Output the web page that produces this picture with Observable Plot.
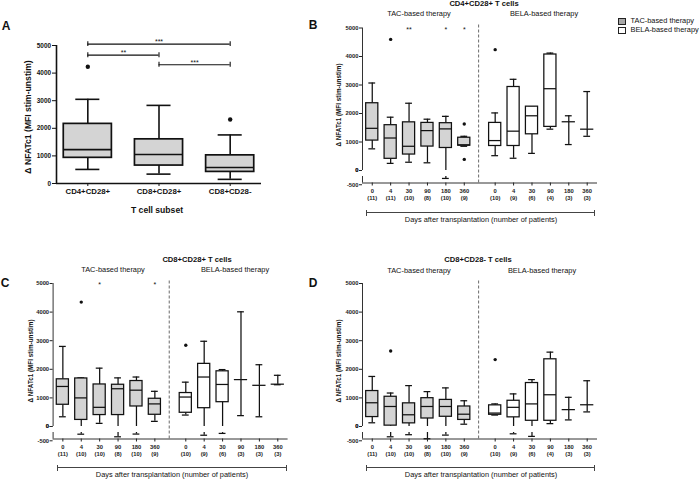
<!DOCTYPE html>
<html><head><meta charset="utf-8">
<script src="https://cdn.jsdelivr.net/npm/d3@7"></script>
<script src="https://cdn.jsdelivr.net/npm/@observablehq/plot@0.6"></script>
<style>
body{margin:0;background:#fff;}
#fig{position:relative;width:700px;height:479px;overflow:hidden;font-family:"Liberation Sans",Arial,sans-serif;color:#111;background:#fff;}
.abs{position:absolute;white-space:nowrap;line-height:1;}
.c{transform:translate(-50%,-50%);}
.rot{transform:translate(-50%,-50%) rotate(-90deg);}
.pw{position:absolute;}
</style></head>
<body><div id="fig"></div>
<script>
// ---------- DATA ----------
// Panel A
const subsets = ["CD4+CD28+", "CD8+CD28+", "CD8+CD28-"];
// [low whisker, Q1, median, Q3, high whisker]
const subsetStats = [[510, 930, 1230, 2160, 3050], [340, 650, 1050, 1600, 2830], [150, 420, 580, 1020, 1760]];
const subsetOutliers = [[0, 4230], [2, 2320]];
const sigBars = [
  {from: 0, to: 2, level: 5050, label: "***"},
  {from: 0, to: 1, level: 4650, label: "**"},
  {from: 1, to: 2, level: 4300, label: "***"}
];

// Panels B–D
const days = [0, 4, 30, 90, 180, 360];
const yTicks = [-500, 0, 1000, 2000, 3000, 4000, 5000];

// CD4+CD28+
const cd4TacN = [11, 11, 10, 8, 10, 9];
const cd4BelaN = [10, 9, 6, 4, 3, 3];
const cd4Tac = [[760, 1050, 1480, 2360, 3070], [250, 410, 1140, 1590, 1870], [290, 560, 850, 1690, 2360], [270, 840, 1400, 1670, 1800], [-150, 790, 1460, 1660, 1900], [850, 870, 900, 1150, 1200]];
const cd4Bela = [[520, 860, 1050, 1670, 2020], [430, 860, 1380, 2930, 3200], [600, 1270, 1920, 2240, 2240], [1450, 1530, 2870, 4070, 4120], [910, null, 1710, null, 1920], [1200, null, 1450, null, 2770]];
const cd4TacOut = [[4, 4600], [360, 1630], [360, 390]];
const cd4BelaOut = [[0, 4240]];
const cd4Stars = [[30, "**"], [180, "*"], [360, "*"]];

// CD8+CD28+
const cd8pTacN = [11, 10, 10, 8, 10, 9];
const cd8pBelaN = [10, 9, 6, 3, 3, 3];
const cd8pTac = [[340, 760, 1400, 1650, 2800], [-130, 230, 1000, 1680, 1700], [110, 400, 670, 1470, 2040], [-330, 400, 1320, 1460, 1700], [-120, 700, 1270, 1590, 1730], [180, 410, 790, 970, 1230]];
const cd8pBela = [[400, 480, 1030, 1170, 1550], [-210, 640, 1730, 2190, 2980], [-70, 850, 1470, 1930, 1990], [380, null, 1640, null, 4010], [340, null, 1440, null, 2160], [1460, null, 1480, null, 1790]];
const cd8pTacOut = [[4, 4350]];
const cd8pBelaOut = [[0, 2840]];
const cd8pStars = [[30, "*"], [360, "*"]];

// CD8+CD28-
const cd8nTacN = [11, 10, 10, 8, 10, 9];
const cd8nBelaN = [10, 9, 6, 4, 3, 3];
const cd8nTac = [[130, 330, 830, 1240, 1750], [-330, 30, 700, 1040, 1170], [-170, 110, 410, 810, 1430], [-480, 280, 700, 990, 1220], [-200, 340, 700, 930, 1350], [80, 230, 430, 700, 900]];
const cd8nBela = [[400, 410, 470, 740, 790], [-100, 320, 670, 900, 1140], [-300, 200, 790, 1520, 1640], [100, 200, 1110, 2350, 2600], [230, null, 590, null, 1020], [510, null, 760, null, 1600]];
const cd8nTacOut = [[4, 2640]];
const cd8nBelaOut = [[0, 2340]];
const cd8nStars = [];

// ---------- LAYOUT / STYLE ----------
const FONT = "Liberation Sans, Arial, sans-serif";
const TAC_FILL = "#d4d4d4", INK = "#111";
const fig = document.getElementById("fig");

function addPlot(svg, left, top) {
  const d = document.createElement("div");
  d.className = "pw"; d.style.left = left + "px"; d.style.top = top + "px";
  d.appendChild(svg); fig.appendChild(d);
}
function label(text, x, y, css = {}, cls = "c") {
  const el = document.createElement("div");
  el.className = "abs " + cls; el.textContent = text;
  el.style.left = x + "px"; el.style.top = y + "px";
  Object.assign(el.style, css); fig.appendChild(el);
  return el;
}
function bracket(x1, x2, y) {
  const l = document.createElement("div");
  Object.assign(l.style, {position: "absolute", left: x1 + "px", top: y + "px", width: (x2 - x1) + "px", height: "0", borderTop: "1px solid #444"});
  fig.appendChild(l);
  for (const x of [x1, x2 - 1]) {
    const t = document.createElement("div");
    Object.assign(t.style, {position: "absolute", left: x + "px", top: (y - 2.5) + "px", width: "0", height: "6px", borderLeft: "1px solid #444"});
    fig.appendChild(t);
  }
}

// ---------- PANEL A ----------
{
  const XD = [-0.44, 2.44];
  const BW = 0.338, CW = 0.169;
  const rows = subsetStats.map((s, i) => ({x: i, low: s[0], q1: s[1], med: s[2], q3: s[3], high: s[4]}));
  const outs = subsetOutliers.map(([i, v]) => ({x: i, v}));
  const W = 330, H = 240;
  const svg = Plot.plot({
    width: W, height: H,
    marginLeft: 56, marginRight: W - 261, marginTop: 45, marginBottom: H - 183,
    x: {domain: XD, range: [56, 261]},
    y: {domain: [0, 5000], range: [183, 45]},
    style: {fontFamily: FONT, background: "transparent", overflow: "visible", color: INK},
    marks: [
      Plot.ruleX([XD[0]], {y1: 0, y2: 5000, stroke: INK, strokeWidth: 1.6}),
      Plot.ruleY([0], {x1: XD[0], x2: XD[1], stroke: INK, strokeWidth: 1.6}),
      Plot.ruleX(rows, {x: "x", y1: "q3", y2: "high", stroke: INK, strokeWidth: 1.6}),
      Plot.ruleX(rows, {x: "x", y1: "low", y2: "q1", stroke: INK, strokeWidth: 1.6}),
      Plot.ruleY(rows, {y: "high", x1: d => d.x - CW, x2: d => d.x + CW, stroke: INK, strokeWidth: 1.6}),
      Plot.ruleY(rows, {y: "low", x1: d => d.x - CW, x2: d => d.x + CW, stroke: INK, strokeWidth: 1.6}),
      Plot.rect(rows, {x1: d => d.x - BW, x2: d => d.x + BW, y1: "q1", y2: "q3", fill: TAC_FILL, stroke: INK, strokeWidth: 1.7}),
      Plot.ruleY(rows, {y: "med", x1: d => d.x - BW, x2: d => d.x + BW, stroke: INK, strokeWidth: 1.7}),
      Plot.dot(outs, {x: "x", y: "v", r: 2.2, fill: INK}),
      Plot.ruleY(sigBars, {y: "level", x1: "from", x2: "to", stroke: INK, strokeWidth: 1.1}),
      Plot.ruleX(sigBars, {x: "from", y1: d => d.level - 90, y2: d => d.level + 90, stroke: INK, strokeWidth: 1.1}),
      Plot.ruleX(sigBars, {x: "to", y1: d => d.level - 90, y2: d => d.level + 90, stroke: INK, strokeWidth: 1.1}),
      Plot.text(sigBars, {x: d => (d.from + d.to) / 2, y: "level", text: "label", dy: -2.5, fontSize: 7, fill: INK}),
      Plot.axisY({ticks: [0, 1000, 2000, 3000, 4000, 5000], tickFormat: d => String(d), tickSize: 4, tickPadding: 1.5, fontSize: 6.4, fontWeight: "bold", label: null, color: INK}),
      Plot.axisX({ticks: [0, 1, 2], tickFormat: i => subsets[i], tickSize: 3, tickPadding: 2, fontSize: 7.8, fontWeight: "bold", label: null, color: INK})
    ]
  });
  addPlot(svg, 0, 0);
  label("A", 6, 26, {fontSize: "12px", fontWeight: "bold"});
  label("Δ NFATc1 (MFI stim-unstim)", 28, 117, {fontSize: "8.6px", fontWeight: "bold"}, "rot");
  label("T cell subset", 157, 210, {fontSize: "8.6px", fontWeight: "bold"});
}

// ---------- PANELS B–D ----------
const ZL = -1e-6;               // zero of the lower (negative) segment of the broken axis
const XD = [-0.53, 12.24];
const BELA0 = 6.68, SEP = 5.78;
const BW = 0.33, CW = 0.185, MW = 0.36;

function rowsOf(stats, ns, offset, fill) {
  return stats.map((s, i) => ({x: offset + i, day: days[i], n: ns[i], low: s[0], q1: s[1], med: s[2], q3: s[3], high: s[4], fill}));
}

function timePanel(cfg) {
  const rows = [...rowsOf(cfg.tac, cfg.tacN, 0, TAC_FILL), ...rowsOf(cfg.bela, cfg.belaN, BELA0, "#ffffff")];
  const boxed = rows.filter(d => d.q1 != null);
  const open = rows.filter(d => d.q1 == null);
  const outs = [
    ...cfg.tacOut.map(([d, v]) => ({x: days.indexOf(d), v})),
    ...cfg.belaOut.map(([d, v]) => ({x: BELA0 + days.indexOf(d), v}))
  ];
  const stars = cfg.stars.map(([d, s]) => ({x: days.indexOf(d), s, y: 5000}));
  const tickLab = new Map(rows.map(d => [d.x, `${d.day}\n(${d.n})`]));
  const [yNeg, yZl, yZ, yTop] = cfg.yr;
  // broken axis: upper segment 0..5000, lower segment -500..0 compressed, with a gap
  const pxPerUnit = (yZ - yTop) / 5000;
  const K = ((yNeg - yZl) / 500) / pxPerUnit;
  const G = (yZl - yZ) / pxPerUnit;
  const brk = v => v >= 0 ? v : v * K - G;
  const lw = 1.25;
  const axisSegs = [[0, 5000], [-500, ZL]];
  const svg = Plot.plot({
    width: cfg.w, height: cfg.h,
    marginLeft: cfg.xl, marginRight: cfg.w - cfg.xr, marginTop: yTop, marginBottom: cfg.h - yNeg,
    x: {domain: XD, range: [cfg.xl, cfg.xr]},
    y: {transform: brk, domain: [brk(-500), 5000], range: [yNeg, yTop]},
    style: {fontFamily: FONT, background: "transparent", overflow: "visible", color: INK},
    marks: [
      Plot.ruleX(axisSegs, {x: XD[0], y1: d => d[0], y2: d => d[1], stroke: "#333", strokeWidth: 1}),
      Plot.ruleY([-500], {x1: XD[0], x2: XD[1], stroke: "#333", strokeWidth: 1}),
      Plot.ruleX([SEP], {y1: -500, y2: 5150, stroke: "#6a6a6a", strokeWidth: 1, strokeDasharray: "3,2"}),
      // whiskers
      Plot.ruleX(rows, {x: "x", y1: d => d.q3 ?? d.med, y2: "high", stroke: INK, strokeWidth: lw}),
      Plot.ruleX(rows, {x: "x", y1: d => Math.max(d.low, 0), y2: d => d.q1 ?? d.med, stroke: INK, strokeWidth: lw}),
      Plot.ruleX(rows.filter(d => d.low < 0), {x: "x", y1: "low", y2: () => ZL, stroke: INK, strokeWidth: lw}),
      Plot.ruleY(rows, {y: "high", x1: d => d.x - CW, x2: d => d.x + CW, stroke: INK, strokeWidth: lw}),
      Plot.ruleY(rows, {y: "low", x1: d => d.x - CW, x2: d => d.x + CW, stroke: INK, strokeWidth: lw}),
      // boxes
      Plot.rect(boxed, {x1: d => d.x - BW, x2: d => d.x + BW, y1: "q1", y2: "q3", fill: "fill", stroke: INK, strokeWidth: lw}),
      Plot.ruleY(boxed, {y: "med", x1: d => d.x - BW, x2: d => d.x + BW, stroke: INK, strokeWidth: lw}),
      Plot.ruleY(open, {y: "med", x1: d => d.x - MW, x2: d => d.x + MW, stroke: INK, strokeWidth: lw}),
      Plot.dot(outs, {x: "x", y: "v", r: 1.7, fill: INK}),
      Plot.text(stars, {x: "x", y: "y", text: "s", fontSize: 7, dy: 1.5, fill: INK}),
      Plot.axisY({ticks: [-500, ZL, ...yTicks.slice(1)], tickFormat: d => d === ZL ? "0" : String(d), tickSize: 3, tickPadding: 1, fontSize: 5.8, fontWeight: "bold", label: null, color: "#222"}),
      Plot.axisX({ticks: rows.map(d => d.x), tickFormat: d => tickLab.get(d), tickSize: 3, tickPadding: 1, fontSize: 5.8, fontWeight: "bold", lineHeight: 1.35, label: null, color: "#222"})
    ]
  });
  addPlot(svg, cfg.left, cfg.top);
}

// B
timePanel({tac: cd4Tac, bela: cd4Bela, tacN: cd4TacN, belaN: cd4BelaN, tacOut: cd4TacOut, belaOut: cd4BelaOut, stars: cd4Stars,
  left: 330, top: 0, w: 370, h: 240, xl: 32, xr: 267, yr: [182.5, 176, 170, 27.5]});
// C
timePanel({tac: cd8pTac, bela: cd8pBela, tacN: cd8pTacN, belaN: cd8pBelaN, tacOut: cd8pTacOut, belaOut: cd8pBelaOut, stars: cd8pStars,
  left: 0, top: 240, w: 330, h: 239, xl: 52.6, xr: 287.6, yr: [198.5, 192, 186, 43]});
// D
timePanel({tac: cd8nTac, bela: cd8nBela, tacN: cd8nTacN, belaN: cd8nBelaN, tacOut: cd8nTacOut, belaOut: cd8nBelaOut, stars: cd8nStars,
  left: 330, top: 240, w: 370, h: 239, xl: 32, xr: 267, yr: [198.5, 192, 186, 43]});

// ---------- TEXT ----------
const small = {fontSize: "7.4px"};
const ttl = {fontSize: "7.6px", fontWeight: "bold"};
const ytl = {fontSize: "6.3px", fontWeight: "bold"};
const dayText = "Days after transplantation (number of patients)";

// B
label("B", 313, 25, {fontSize: "12px", fontWeight: "bold"});
label("CD4+CD28+ T cells", 484, 3.5, ttl);
label("TAC-based therapy", 419, 14, small);
label("BELA-based therapy", 544, 14, small);
label("Δ NFATc1 (MFI stim-unstim)", 339, 105, ytl, "rot");
bracket(366, 595, 212);
label(dayText, 481, 219.5, small);
// C
label("C", 5, 283, {fontSize: "12px", fontWeight: "bold"});
label("CD8+CD28+ T cells", 197, 260, ttl);
label("TAC-based therapy", 113, 270, small);
label("BELA-based therapy", 235, 270, small);
label("Δ NFATc1 (MFI stim-unstim)", 31, 361, ytl, "rot");
bracket(57, 287, 467);
label(dayText, 172, 474.5, small);
// D
label("D", 313, 283, {fontSize: "12px", fontWeight: "bold"});
label("CD8+CD28- T cells", 478, 260, ttl);
label("TAC-based therapy", 419, 271, small);
label("BELA-based therapy", 542, 271, small);
label("Δ NFATc1 (MFI stim-unstim)", 339, 361, ytl, "rot");
bracket(366, 595, 467);
label(dayText, 481, 474.5, small);

// Legend
const legendItems = [["TAC-based therapy", "#a9a9a9"], ["BELA-based therapy", "#ffffff"]];
legendItems.forEach(([t, f], i) => {
  const sq = document.createElement("div");
  Object.assign(sq.style, {position: "absolute", left: "618px", top: (17.5 + i * 9.3) + "px", width: "6px", height: "5.5px", background: f, border: "1px solid #222"});
  fig.appendChild(sq);
  label(t, 630.5, 21 + i * 9.3, {fontSize: "7.4px", transform: "translate(0,-50%)"}, "");
});
</script>
</body></html>
